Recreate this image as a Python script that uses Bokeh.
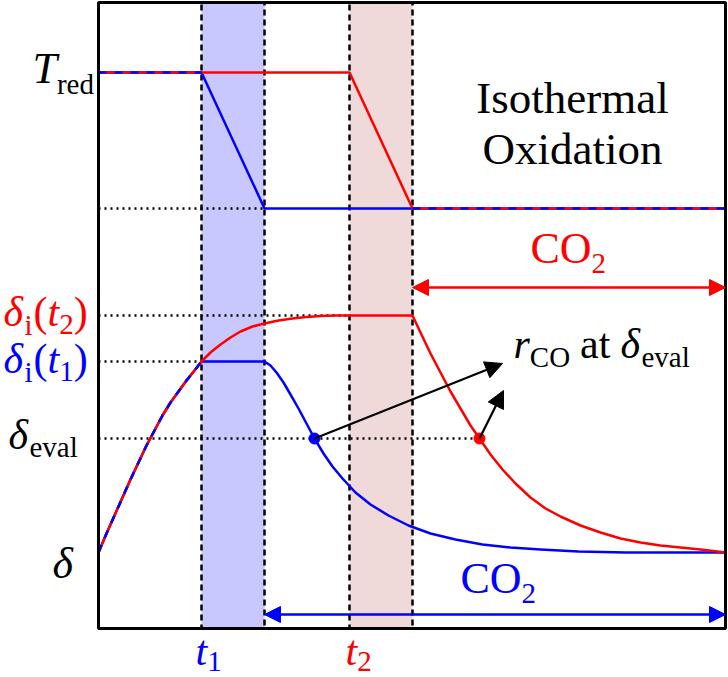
from bokeh.plotting import figure
from bokeh.models import Label, Arrow, NormalHead, BoxAnnotation, Range1d
from bokeh.embed import file_html
from bokeh.resources import INLINE

# ---------------- data (schematic units) ----------------
X_MAX, Y_MAX = 627, 626
t1_band = [103, 166]          # window 1
t2_band = [251, 314]          # window 2

T_red = 556                   # reduction temperature level
T_ox = 420                    # oxidation temperature level

delta_0 = 76
delta_t1 = 267
delta_t2 = 313
delta_eval = 190

# shared reduction curve (both runs)
rise_x = [0, 8, 16, 24, 32, 40, 48, 56, 64, 72, 80, 88, 96, 103]
rise_y = [76, 95, 113, 131, 149, 166, 183, 198, 213, 226, 237, 248, 258, 267]

# red run: keeps reducing until t2, then oxidation
red_more_x = [112, 122, 132, 142, 154, 166, 180, 194, 208, 222, 237, 251, 314]
red_more_y = [276, 284, 291, 297, 302, 305, 308, 310, 311.5, 312.5, 313, 313, 313]
red_decay_x = [322, 332, 342, 352, 362, 372, 381, 392, 404, 417, 432, 447, 462, 482,
               502, 522, 542, 562, 582, 602, 627]
red_decay_y = [296, 275, 256, 237, 220, 203, 190, 174, 159, 145, 131, 120, 112, 103,
               96, 90, 86, 83, 81, 79, 76]

# blue run: held until end of window 1, then oxidation
blue_hold_x = [166]
blue_hold_y = [267]
blue_decay_x = [172, 178, 185, 192, 200, 208, 216, 225, 234, 244, 257, 272, 290, 310,
                332, 357, 384, 412, 442, 480, 527, 627]
blue_decay_y = [263, 256, 246, 234, 220, 205, 190, 175, 162, 150, 136, 124, 113, 103,
                95, 89, 84, 81, 79, 77, 76, 76]

eval_x = [216, 381]           # points where delta = delta_eval (blue, red)
rco_tip_x = [404, 405]
rco_tip_y = [265, 238]
co2_red_y = 341
co2_blue_y = 14

BLUE = "#0000ff"
RED = "#ff0000"
FONT = "Liberation Serif"

# ---------------- figure ----------------
p = figure(width=728, height=677, x_range=Range1d(-98, X_MAX + 3), y_range=Range1d(-49, Y_MAX + 2),
           x_axis_type=None, y_axis_type=None, toolbar_location=None,
           output_backend="svg", min_border_left=0, min_border_right=0,
           min_border_top=0, min_border_bottom=0)
p.outline_line_color = None
p.background_fill_color = "white"
p.border_fill_color = "white"
for g in p.grid:
    g.visible = False

# bands
p.add_layout(BoxAnnotation(left=t1_band[0], right=t1_band[1], bottom=0, top=Y_MAX,
                           fill_color="#c8c8ff", fill_alpha=1, line_color="black", line_alpha=1,
                           line_dash="6 4", line_width=2.5, level="underlay"))
p.add_layout(BoxAnnotation(left=t2_band[0], right=t2_band[1], bottom=0, top=Y_MAX,
                           fill_color="#efd9d9", fill_alpha=1, line_color="black", line_alpha=1,
                           line_dash="6 4", line_width=2.5, level="underlay"))

# dotted guide lines
dot_y = [T_ox, delta_t2, delta_t1, delta_eval]
dot_x1 = [t1_band[1], t2_band[0], t1_band[0], eval_x[1]]
p.segment(x0=[0] * 4, y0=dot_y, x1=dot_x1, y1=dot_y, line_color="black",
          line_width=2.5, line_dash="2 4")

# temperature programmes
blue_T_x = [0, t1_band[0], t1_band[1], X_MAX]
blue_T_y = [T_red, T_red, T_ox, T_ox]
red_T_x = [0, t2_band[0], t2_band[1], X_MAX]
red_T_y = [T_red, T_red, T_ox, T_ox]
p.line(blue_T_x, blue_T_y, line_color=BLUE, line_width=2.5)
p.line(red_T_x, red_T_y, line_color=RED, line_width=2.5)
p.line([0, t1_band[0]], [T_red, T_red], line_color=BLUE, line_width=2.5, line_dash="8 8")
p.line([t2_band[1], X_MAX], [T_ox, T_ox], line_color=BLUE, line_width=2.5, line_dash="8 8")

# nonstoichiometry curves
blue_d_x = rise_x + blue_hold_x + blue_decay_x
blue_d_y = rise_y + blue_hold_y + blue_decay_y
red_d_x = rise_x + red_more_x + red_decay_x
red_d_y = rise_y + red_more_y + red_decay_y
p.line(blue_d_x, blue_d_y, line_color=BLUE, line_width=2.5, line_join="round")
p.line(red_d_x, red_d_y, line_color=RED, line_width=2.5, line_join="round")
p.line(rise_x, rise_y, line_color=BLUE, line_width=2.5, line_dash="8 8")

p.scatter(x=eval_x, y=[delta_eval] * 2, size=11, color=[BLUE, RED])

# frame
p.quad(left=[0], right=[X_MAX], bottom=[0], top=[Y_MAX], fill_color=None,
       line_color="black", line_width=3)

# arrows
for i in range(2):
    p.add_layout(Arrow(end=NormalHead(size=17, fill_color="black", line_color="black"),
                       x_start=eval_x[i], y_start=delta_eval, x_end=rco_tip_x[i], y_end=rco_tip_y[i],
                       line_color="black", line_width=2.2))
p.add_layout(Arrow(start=NormalHead(size=16, fill_color=RED, line_color=RED),
                   end=NormalHead(size=16, fill_color=RED, line_color=RED),
                   x_start=t2_band[1], y_start=co2_red_y, x_end=X_MAX, y_end=co2_red_y,
                   line_color=RED, line_width=2.5))
p.add_layout(Arrow(start=NormalHead(size=16, fill_color=BLUE, line_color=BLUE),
                   end=NormalHead(size=16, fill_color=BLUE, line_color=BLUE),
                   x_start=t1_band[1], y_start=co2_blue_y, x_end=X_MAX, y_end=co2_blue_y,
                   line_color=BLUE, line_width=2.5))

# ---------------- text ----------------
W = {"δ": 0.5, "i": 0.278, "(": 0.333, ")": 0.333, "t": 0.278, "1": 0.5, "2": 0.5,
     "e": 0.444, "v": 0.5, "a": 0.444, "l": 0.278, "r": 0.389, "C": 0.667, "O": 0.722,
     "T": 0.556, "d": 0.5}
M, S = 42, 29
FIX = 0.33   # baseline correction (fraction of font size)


def rich(x0, y0, pieces, color):
    x = x0
    for text, size, italic, dy, gap in pieces:
        p.add_layout(Label(x=x, y=y0 + dy + FIX * size, text=text, text_font=FONT,
                           text_font_size=f"{size}px",
                           text_font_style="italic" if italic else "normal",
                           text_color=color, text_align="left", text_baseline="alphabetic"))
        x += sum(W.get(c, 0.5) for c in text) * size + gap


rich(-66, T_red - 11, [("T", M + 2, True, 0, 0), ("red", S, False, -10, 0)], "black")
rich(-95, delta_t2 - 10, [("δ", M, True, 0, 0), ("i", S, False, -9, 1), ("(", M, False, 0, 0),
                          ("t", M, True, 0, 0), ("2", S, False, -9, 0), (")", M, False, 0, 0)], RED)
rich(-95, delta_t1 - 11, [("δ", M, True, 0, 0), ("i", S, False, -9, 1), ("(", M, False, 0, 0),
                          ("t", M, True, 0, 0), ("1", S, False, -9, 0), (")", M, False, 0, 0)], BLUE)
rich(-90, delta_eval - 10, [("δ", M, True, 0, 0), ("eval", S, False, -8, 0)], "black")
rich(-46, delta_0 - 26, [("δ", M + 2, True, 0, 0)], "black")

rich(t1_band[0] - 6, -36, [("t", M, True, 0, 0), ("1", S, False, -7, 0)], BLUE)
rich(t2_band[0] - 4, -36, [("t", M, True, 0, 0), ("2", S, False, -7, 0)], RED)

rich(415, 271, [("r", M, True, 0, 0), ("CO", S, False, -9, 10), ("at", M, False, 0, 10),
                ("δ", M, True, 0, 0), ("eval", S, False, -9, 0)], "black")
rich(432, co2_red_y + 24, [("CO", M + 2, False, 0, 0), ("2", S, False, -10, 0)], RED)
rich(362, co2_blue_y + 21, [("CO", M + 2, False, 0, 0), ("2", S, False, -10, 0)], BLUE)

for txt, yb in (("Isothermal", 516), ("Oxidation", 465)):
    p.add_layout(Label(x=474, y=yb + FIX * 45, text=txt, text_font=FONT, text_font_size="45px",
                       text_align="center", text_baseline="alphabetic", text_color="black"))

open("out.html", "w").write(file_html(p, INLINE))
